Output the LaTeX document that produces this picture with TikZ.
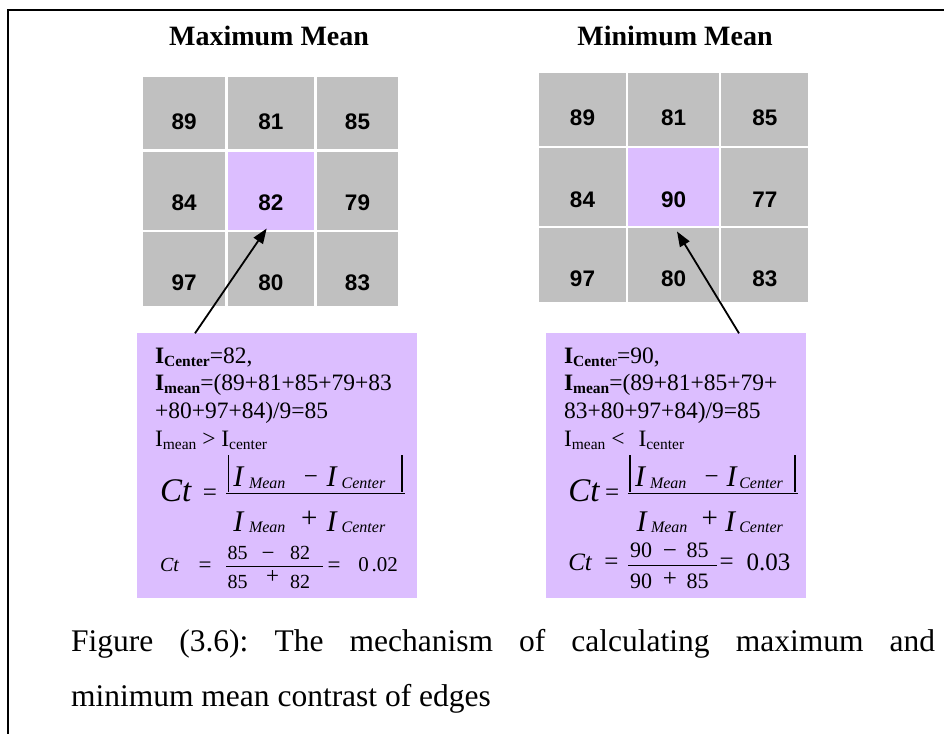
\documentclass[tikz,border=0pt]{standalone}
\usepackage{fontspec}
\setmainfont{Liberation Serif}
\newfontfamily\arialf{Liberation Sans}
\usetikzlibrary{arrows.meta}
\definecolor{cellgray}{RGB}{192,192,192}
\definecolor{lav}{RGB}{220,190,255}
\newcommand\mysub[1]{\raisebox{-3pt}{\fontsize{15.5}{15.5}\selectfont #1}}
\frenchspacing
\begin{document}
\begin{tikzpicture}[x=1pt,y=-1pt,
  every node/.style={inner sep=0pt,outer sep=0pt},
  title/.style={anchor=base,font=\fontsize{28}{28}\selectfont\bfseries},
  num/.style={anchor=base,font=\arialf\bfseries\fontsize{22.5}{22.5}\selectfont},
  txt/.style={anchor=base west,font=\fontsize{23.5}{28}\selectfont},
  bigct/.style={anchor=base west,font=\fontsize{33}{33}\selectfont\itshape},
  bigit/.style={anchor=base west,font=\fontsize{30}{30}\selectfont\itshape},
  subit/.style={anchor=base west,font=\fontsize{16}{16}\selectfont\itshape},
  op/.style={anchor=base,font=\fontsize{25}{25}\selectfont},
  bigop/.style={anchor=base,font=\fontsize{29}{29}\selectfont},
  it20/.style={anchor=base west,font=\fontsize{20}{20}\selectfont\itshape},
  it25/.style={anchor=base west,font=\fontsize{25}{25}\selectfont\itshape},
  op20/.style={anchor=base,font=\fontsize{23}{23}\selectfont},
  n20/.style={anchor=base west,font=\fontsize{20}{20}\selectfont},
  n21/.style={anchor=base west,font=\fontsize{21}{21}\selectfont},
  n22/.style={anchor=base west,font=\fontsize{22}{22}\selectfont},
  n25/.style={anchor=base west,font=\fontsize{25}{25}\selectfont},
  captxt/.style={anchor=base west,font=\fontsize{31.5}{31.5}\selectfont},
  panel/.style={fill=lav,anchor=north west},
  arr/.style={line width=1.8pt,-{Triangle[length=15pt,width=11pt]}},
  fbar/.style={line width=1.5pt},
  abar/.style={line width=1.6pt}]
\useasboundingbox (0,0) rectangle (944,734);
% frame
\draw[line width=2pt] (944,10) -- (8,10) -- (8,734);
% titles
\node[title] (tL) at (269,45) {Maximum Mean};
\node[title] (tR) at (675,45) {Minimum Mean};
% left grid
\foreach \xa/\xb in {143.3/225,227.7/314,316.7/398.3}
  \foreach \ya/\yb in {76.7/149.3,151.7/230,232.3/305.7}
    {\fill[cellgray] (\xa,\ya) rectangle (\xb,\yb);}
\node[fill=lav,anchor=north west,minimum width=86.3pt,minimum height=78.3pt] (cL) at (227.7,151.7) {};
\node[num] (nL11) at (184.2,129.3) {89};
\node[num] (nL12) at (270.8,129.3) {81};
\node[num] (nL13) at (357.5,129.3) {85};
\node[num] (nL21) at (184.2,210) {84};
\node[num] (nL22) at (270.8,210) {82};
\node[num] (nL23) at (357.5,210) {79};
\node[num] (nL31) at (184.2,290) {97};
\node[num] (nL32) at (270.8,290) {80};
\node[num] (nL33) at (357.5,290) {83};
% right grid
\foreach \xa/\xb in {539/626,628.3/719,721.3/808.3}
  \foreach \ya/\yb in {72.7/145.7,148/225.7,228.3/301.7}
    {\fill[cellgray] (\xa,\ya) rectangle (\xb,\yb);}
\node[fill=lav,anchor=north west,minimum width=90.7pt,minimum height=77.7pt] (cR) at (628.3,148) {};
\node[num] (nR11) at (582.5,125) {89};
\node[num] (nR12) at (673.7,125) {81};
\node[num] (nR13) at (764.8,125) {85};
\node[num] (nR21) at (582.5,207.3) {84};
\node[num] (nR22) at (673.7,207.3) {90};
\node[num] (nR23) at (764.8,207.3) {77};
\node[num] (nR31) at (582.5,286.7) {97};
\node[num] (nR32) at (673.7,286.7) {80};
\node[num] (nR33) at (764.8,286.7) {83};
% panels
\node[panel,minimum width=280pt,minimum height=265pt] (bL) at (137.3,333.3) {};
\node[panel,minimum width=259.7pt,minimum height=265pt] (bR) at (546,333.3) {};
% arrows
\coordinate (aL) at (195,333.3);
\coordinate (tipL) at (266.7,228.5);
\draw[arr] (aL) -- (tipL);
\coordinate (aR) at (739,333.3);
\coordinate (tipR) at (677,231.5);
\draw[arr] (aR) -- (tipR);
% left text
\node[txt] (l1) at (155,363.3) {\textbf{I\mysub{Center}}=82,};
\node[txt] (l2) at (155,390.7) {\textbf{I\mysub{mean}}=(89+81+85+79+83};
\node[txt] (l3) at (155,418.3) {+80+97+84)/9=85};
\node[txt] (l4) at (155,446.7) {I\mysub{mean} > I\mysub{center}};
% right text
\node[txt] (r1) at (564,363.3) {\textbf{I\mysub{Cente}}\mysub{r}=90,};
\node[txt] (r2) at (564,390.7) {\textbf{I\mysub{mean}}=(89+81+85+79+};
\node[txt] (r3) at (564,418.3) {83+80+97+84)/9=85};
\node[txt] (r4) at (564,446.7) {I\mysub{mean} <\hspace{14pt}I\mysub{center}};
% left formula 1
\node[bigct] (ctL) at (160,501.7) {Ct};
\node[op] (eqL) at (210,500.5) {=};
\draw[fbar] (226,493.3) -- (405,493.3);
\draw[abar] (228.3,455) -- (228.3,491.7);
\draw[abar] (401.7,455) -- (401.7,491.7);
\node[bigit] (i1L) at (233.3,486.7) {I};
\node[subit] (m1L) at (249,488) {Mean};
\node[op] (miL) at (311,484.5) {−};
\node[bigit] (i2L) at (326.7,486.7) {I};
\node[subit] (c1L) at (341.7,488) {Center};
\node[bigit] (i3L) at (233.3,531) {I};
\node[subit] (m2L) at (249,532.5) {Mean};
\node[bigop] (plL) at (309.2,527.6) {+};
\node[bigit] (i4L) at (326.7,531) {I};
\node[subit] (c2L) at (341.7,532.5) {Center};
% left formula 2
\node[it20] (ct2L) at (160,571.7) {Ct};
\node[op20] (eq2L) at (205.2,572.5) {=};
\draw[fbar] (226,566.7) -- (323.3,566.7);
\node[n20] (a1L) at (227.7,559.3) {85};
\node[op20] (a2L) at (268.2,560) {−};
\node[n20] (a3L) at (290,559.3) {82};
\node[n20] (b1L) at (227.7,588.3) {85};
\node[op20] (b2L) at (272.5,583.5) {+};
\node[n20] (b3L) at (290,588.3) {82};
\node[op20] (eq3L) at (334.2,572.5) {=};
\node[n21] (resL) at (358.3,571.7) {0\hspace{2.9pt}.02};
% right formula 1
\node[bigct] (ctR) at (568.3,501.7) {Ct};
\node[op] (eqR) at (612.2,500.5) {=};
\draw[fbar] (628.3,493.3) -- (798.3,493.3);
\draw[abar] (630,455) -- (630,491.7);
\draw[abar] (795,455) -- (795,491.7);
\node[bigit] (i1R) at (635,486.7) {I};
\node[subit] (m1R) at (650,488) {Mean};
\node[op] (miR) at (711.7,484.5) {−};
\node[bigit] (i2R) at (726.7,486.7) {I};
\node[subit] (c1R) at (739.3,488) {Center};
\node[bigit] (i3R) at (636.7,531) {I};
\node[subit] (m2R) at (651,532.5) {Mean};
\node[bigop] (plR) at (709.7,527.6) {+};
\node[bigit] (i4R) at (725,531) {I};
\node[subit] (c2R) at (739.3,532.5) {Center};
% right formula 2
\node[it25] (ct2R) at (568.3,570) {Ct};
\node[op] (eq2R) at (611.3,569.5) {=};
\draw[fbar] (628.3,565.7) -- (716.7,565.7);
\node[n22] (a1R) at (630,557.3) {90};
\node[op] (a2R) at (670,558) {−};
\node[n22] (a3R) at (686.7,557.3) {85};
\node[n22] (b1R) at (630,588.3) {90};
\node[op] (b2R) at (670,586) {+};
\node[n22] (b3R) at (686.7,588.3) {85};
\node[op] (eq3R) at (726.7,569.5) {=};
\node[n25] (resR) at (746.7,570) {0.03};
% caption
\node[captxt] (cap1) at (71,651.7) {\makebox[864pt][s]{Figure (3.6): The mechanism of calculating maximum and}};
\node[captxt] (cap2) at (71,706.7) {minimum mean contrast of edges};
\end{tikzpicture}
\end{document}
